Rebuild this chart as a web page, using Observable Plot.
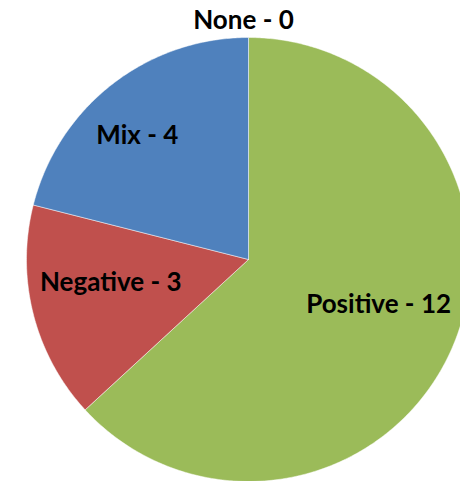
<!DOCTYPE html>
<html><head><meta charset="utf-8">
<script src="https://cdn.jsdelivr.net/npm/d3@7"></script>
<script src="https://cdn.jsdelivr.net/npm/@observablehq/plot@0.6"></script>
<style>
html,body{margin:0;padding:0;background:#fff;overflow:hidden}
#chart svg{overflow:hidden;display:block}
</style>
</head><body><div id="chart"></div>
<script>
// Data
const categories = ["Positive", "Negative", "Mix", "None"];
const values = [12, 3, 4, 0];
const colors = ["#9BBB59", "#C0504D", "#4F81BD", "#4F81BD"];

// Layout
const W = 460, H = 481, CX = 248, CY = 259, R = 222;
const labelR = {Positive: 0.64, Negative: 0.64, Mix: 0.64, None: 1.08};
const labelShift = {Positive: [0, -12], Negative: [0, -12], Mix: [-24, -12], None: [-5, 1]};

const rows = categories.map((c, i) => ({category: c, value: values[i]}));
const arcs = d3.pie().sort(null).value(d => d.value)(rows);

const pts = [];
for (const a of arcs) {
  const span = a.endAngle - a.startAngle;
  if (span <= 0) continue;
  const c = a.data.category;
  pts.push({category: c, x: 0, y: 0});
  const n = Math.max(2, Math.ceil(span / 0.01));
  for (let k = 0; k <= n; k++) {
    const t = a.startAngle + span * k / n;
    pts.push({category: c, x: Math.sin(t), y: Math.cos(t)});
  }
  pts.push({category: c, x: 0, y: 0});
}

const labels = arcs.map(a => {
  const c = a.data.category;
  const t = (a.startAngle + a.endAngle) / 2;
  const r = labelR[c];
  const [sx, sy] = labelShift[c];
  return {
    x: r * Math.sin(t) + sx / R,
    y: r * Math.cos(t) - sy / R,
    text: `${c} - ${a.data.value}`
  };
});

const chart = Plot.plot({
  width: W,
  height: H,
  margin: 0,
  style: {background: "#fff"},
  x: {domain: [-CX / R, (W - CX) / R], axis: null},
  y: {domain: [-(H - CY) / R, CY / R], axis: null},
  color: {domain: categories, range: colors},
  marks: [
    Plot.line(pts, {x: "x", y: "y", z: "category", fill: "category", stroke: "white", strokeWidth: 0.6, strokeOpacity: 0.8}),
    Plot.text(labels, {x: "x", y: "y", text: "text", fontSize: 26, fontWeight: "bold", fontFamily: "Lato", fill: "black"})
  ]
});
document.getElementById("chart").appendChild(chart);
</script>
</body></html>
